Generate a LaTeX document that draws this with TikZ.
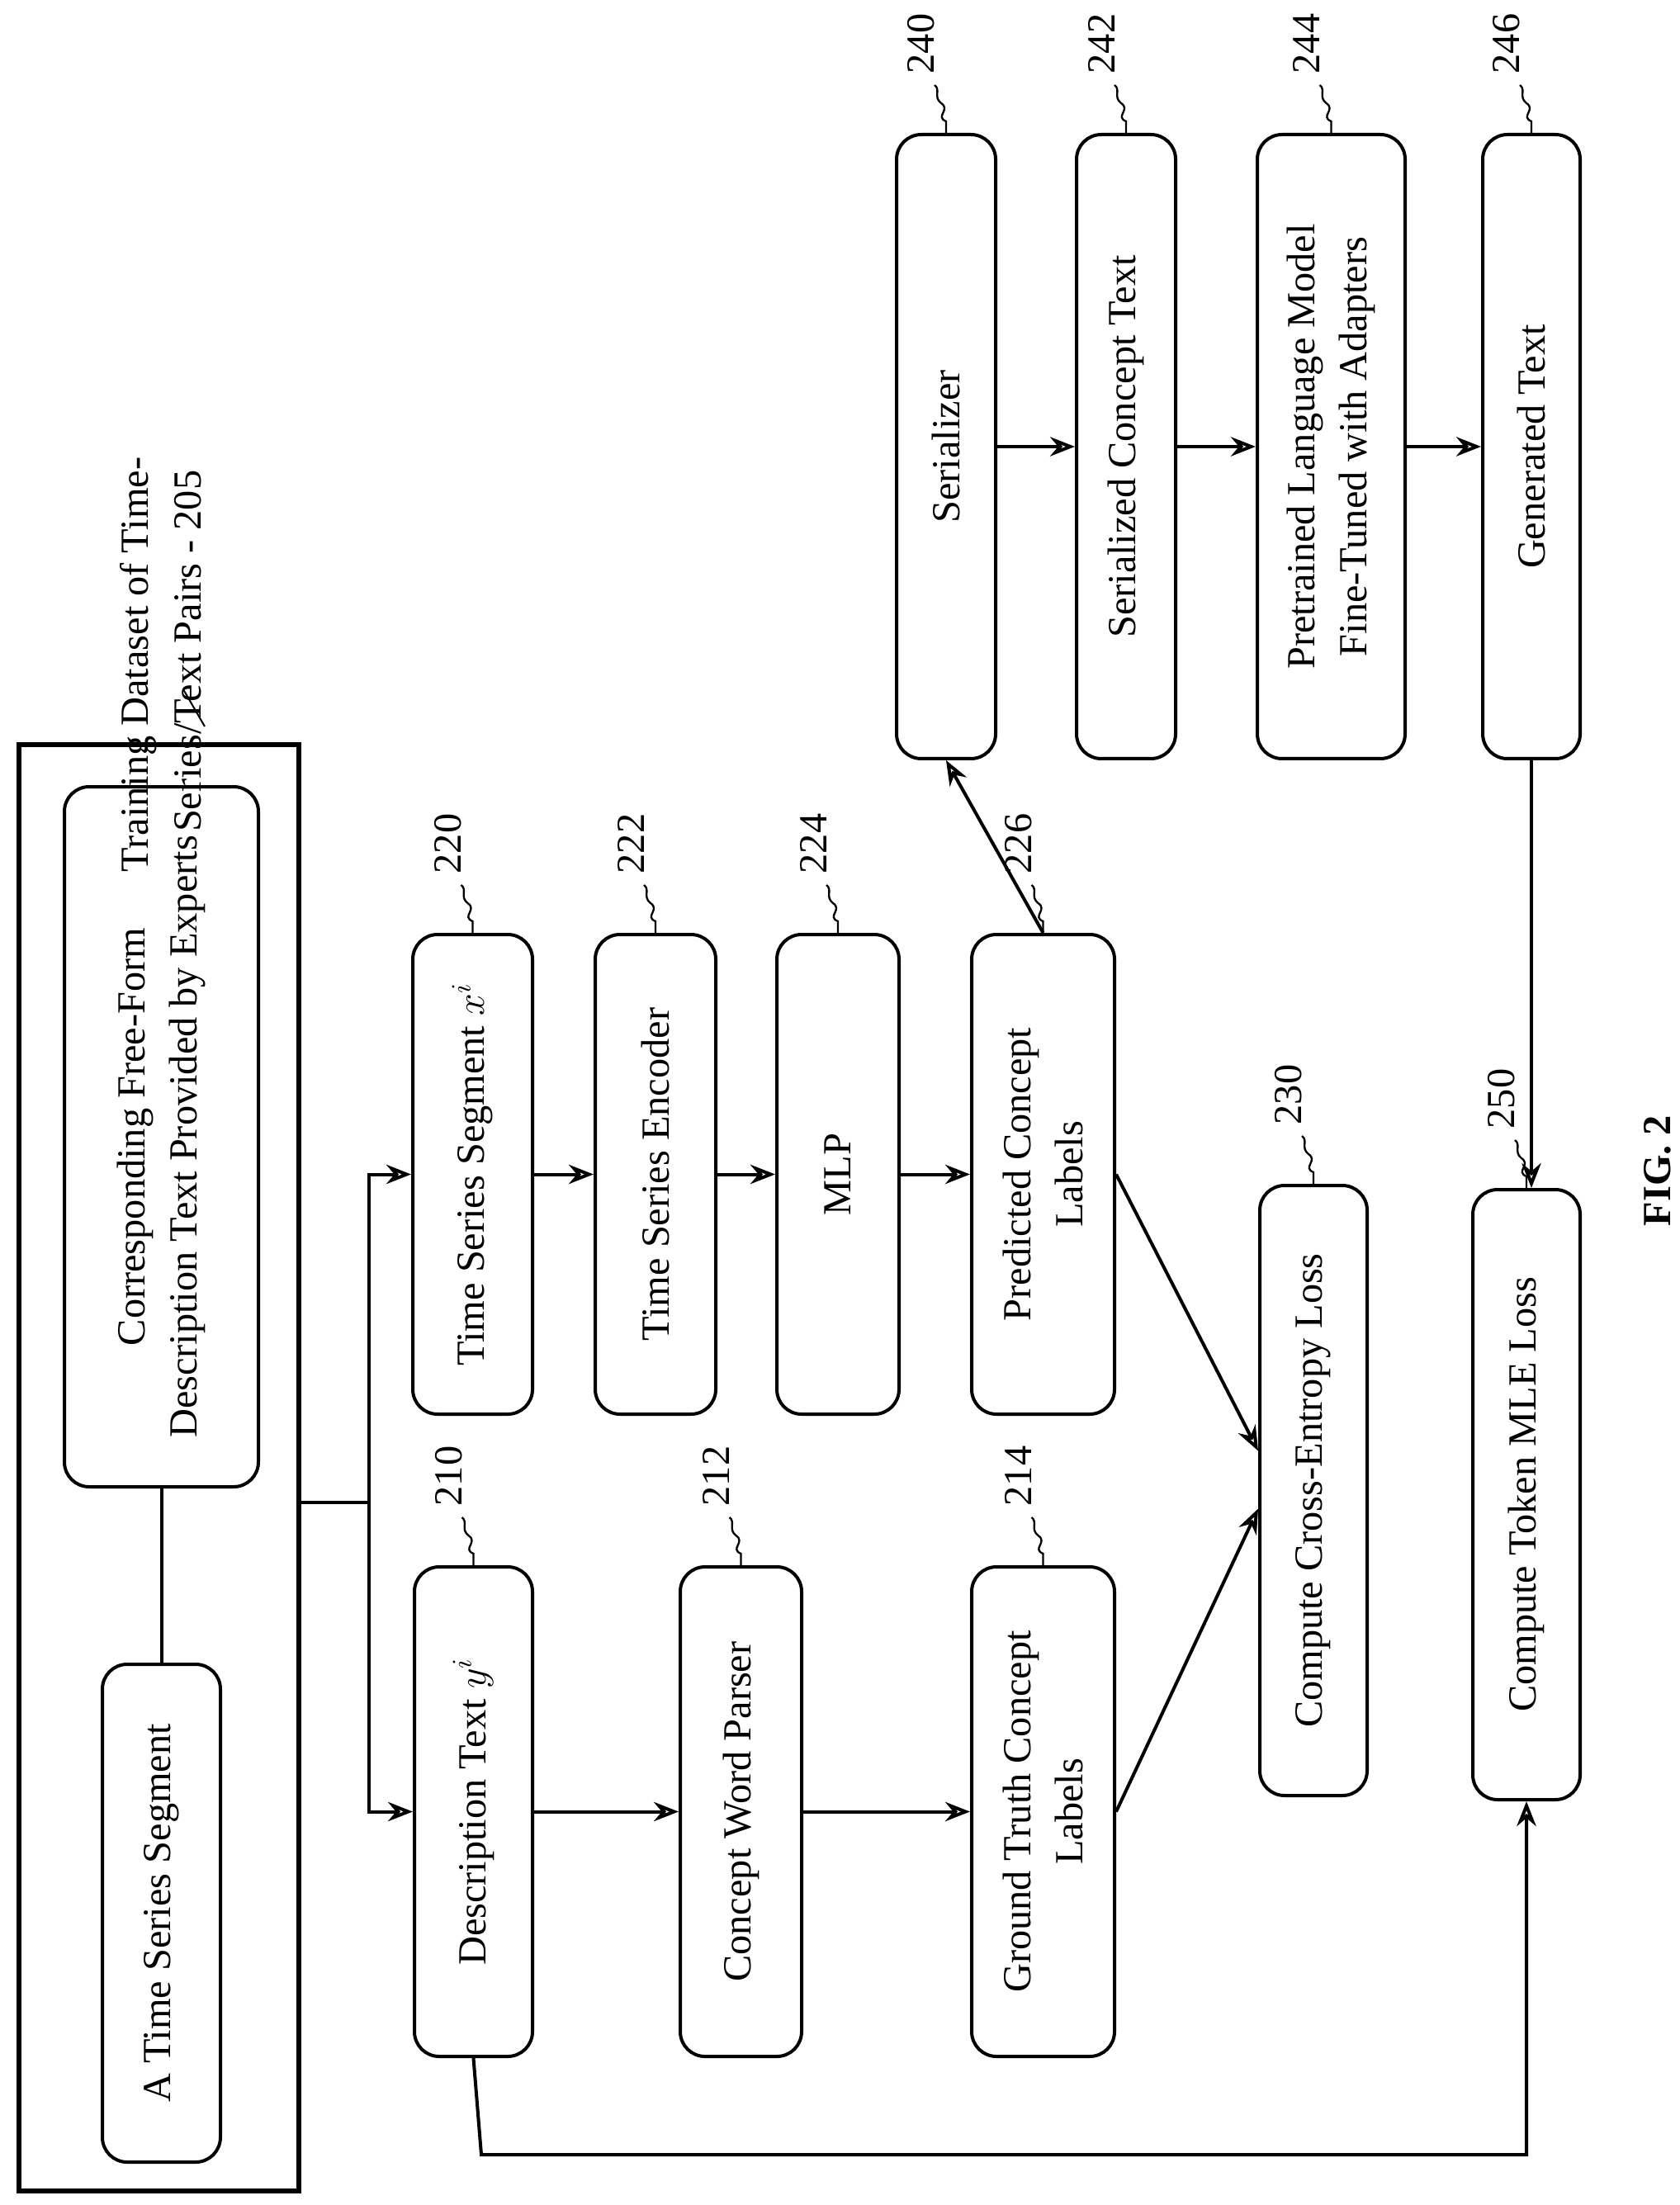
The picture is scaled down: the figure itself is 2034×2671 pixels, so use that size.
\documentclass[tikz,border=0pt]{standalone}
\usepackage{fontspec}
\setmainfont{Liberation Serif}
\usetikzlibrary{calc,arrows.meta}
\begin{document}
\begin{tikzpicture}[x=0.3pt,y=0.3pt,
  font=\fontsize{14.5}{19}\selectfont,
  box/.style={draw,line width=1.2pt,rounded corners=9pt,rotate=90,align=center,inner sep=0pt},
  arr/.style={line width=1.2pt,-{Stealth[length=9pt,width=7pt,open]}},
  ln/.style={line width=1.2pt},
  num/.style={rotate=90,inner sep=1pt}]
\useasboundingbox (0,0) rectangle (2034,-2671);
\node[draw,line width=1.8pt,minimum width=101.7pt,minimum height=525.6pt,inner sep=0pt] (outer) at (192.5,-1778) {};
\node[box,minimum width=254.4pt,minimum height=70.5pt] (corr) at (195.5,-1377) {Corresponding Free-Form\\Description Text Provided by Experts};
\node[box,minimum width=180.9pt,minimum height=42.9pt] (ats) at (195.5,-2317.5) {A Time Series Segment};
\node[box,minimum width=177.9pt,minimum height=42.9pt] (desc) at (573.5,-2194.5) {Description Text $y^{i}$};
\node[box,minimum width=177.9pt,minimum height=44.1pt] (cwp) at (897.5,-2194.5) {Concept Word Parser};
\node[box,minimum width=177.9pt,minimum height=51.9pt] (gt) at (1263.5,-2194.5) {Ground Truth Concept\\Labels};
\node[box,minimum width=174.3pt,minimum height=43.5pt] (tss) at (572.5,-1422.5) {Time Series Segment $x^{i}$};
\node[box,minimum width=174.3pt,minimum height=43.8pt] (tse) at (794,-1422.5) {Time Series Encoder};
\node[box,minimum width=174.3pt,minimum height=44.4pt] (mlp) at (1015,-1422.5) {MLP};
\node[box,minimum width=174.3pt,minimum height=51.9pt] (pred) at (1263.5,-1422.5) {Predicted Concept\\Labels};
\node[box,minimum width=221.7pt,minimum height=39pt] (ce) at (1591,-1805.5) {Compute Cross-Entropy Loss};
\node[box,minimum width=221.7pt,minimum height=39pt] (mle) at (1849,-1810.5) {Compute Token MLE Loss};
\node[box,minimum width=226.8pt,minimum height=36pt] (ser) at (1146,-541) {Serializer};
\node[box,minimum width=226.8pt,minimum height=36pt] (sct) at (1364,-541) {Serialized Concept Text};
\node[box,minimum width=226.8pt,minimum height=53.7pt] (pre) at (1612.5,-541) {Pretrained Language Model\\Fine-Tuned with Adapters};
\node[box,minimum width=226.8pt,minimum height=35.4pt] (gen) at (1855,-541) {Generated Text};

\node[rotate=90,anchor=north,align=left,inner sep=0pt] (title) at (145,-805) {Training Dataset of Time-\\\quad Series/Text Pairs - 205};
\coordinate (t1) at (222,-835);
\coordinate (t2) at (248,-880);
\draw[line width=0.6pt] (t1) -- (t2);
\node[rotate=90,font=\fontsize{14.5}{19}\selectfont\bfseries] (fig) at (2008,-1418) {FIG. 2};

% connectors
\draw[ln] (corr.west) -- (ats.east);
\coordinate (trunk) at (447,-1820);
\draw[ln] (outer.east |- trunk) -- (trunk);
\draw[arr] (trunk) |- (tss.north);
\draw[arr] (trunk) |- (desc.north);
\draw[arr] (tss.south) -- (tse.north);
\draw[arr] (tse.south) -- (mlp.north);
\draw[arr] (mlp.south) -- (pred.north);
\draw[arr] (desc.south) -- (cwp.north);
\draw[arr] (cwp.south) -- (gt.north);
\draw[arr] (ser.south) -- (sct.north);
\draw[arr] (sct.south) -- (pre.north);
\draw[arr] (pre.south) -- (gen.north);
\draw[arr] (pred.east) -- (ser.west);
\draw[arr] (pred.south) -- ($(ce.north)+(0,48)$);
\draw[arr] (gt.south) -- ($(ce.north)+(0,-22)$);
\draw[arr] (gen.west) -- (gen.west |- mle.east);
\coordinate (bot) at (583,-2610);
\draw[arr] (desc.west) -- (bot) -| (mle.west);

% reference numerals
\newcommand\reflbl[2]{%
  \draw[line width=0.7pt] (#1.east) -- ++(0,14) .. controls ++(-14,6) and ++(12,-8) .. ++(-6,22) .. controls ++(-10,8) and ++(8,-6) .. ++(-8,22);
  \node[num] (l#2) at ($(#1.east)+(-30,108)$) {#2};}
\reflbl{desc}{210}
\reflbl{cwp}{212}
\reflbl{gt}{214}
\reflbl{tss}{220}
\reflbl{tse}{222}
\reflbl{mlp}{224}
\reflbl{pred}{226}
\reflbl{ce}{230}
\reflbl{mle}{250}
\reflbl{ser}{240}
\reflbl{sct}{242}
\reflbl{pre}{244}
\reflbl{gen}{246}
\end{tikzpicture}
\end{document}
